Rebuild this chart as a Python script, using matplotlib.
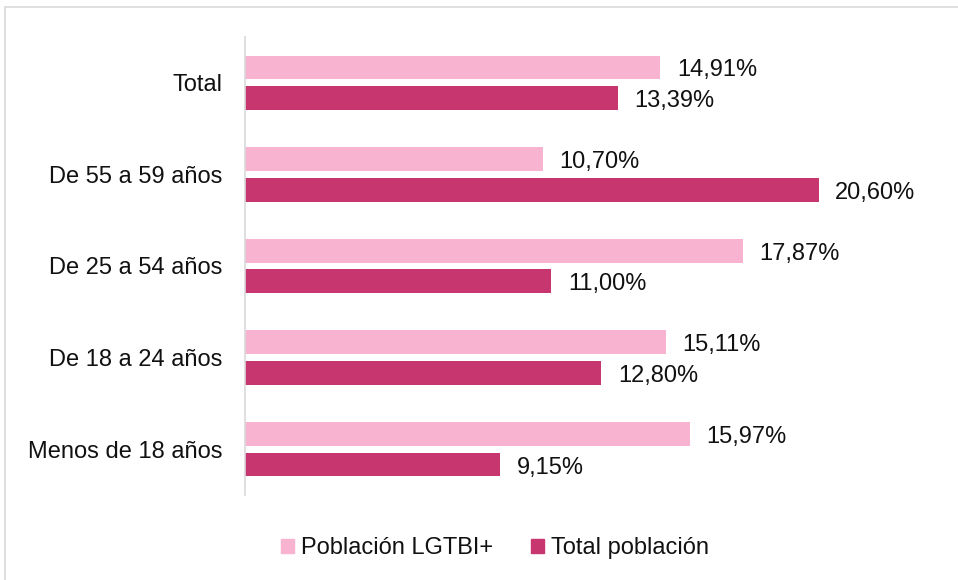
import matplotlib.pyplot as plt
import matplotlib.patches as mpatches
import matplotlib.transforms as mtransforms
import numpy as np

plt.rcParams['font.family'] = ['Liberation Sans', 'DejaVu Sans']

# %%
categories = ['Total', 'De 55 a 59 años', 'De 25 a 54 años', 'De 18 a 24 años', 'Menos de 18 años']
lgtbi = [14.91, 10.70, 17.87, 15.11, 15.97]
total = [13.39, 20.60, 11.00, 12.80, 9.15]
series_names = ['Población LGTBI+', 'Total población']
colors = ['#F8B3D0', '#C8366F']

# %%
fig = plt.figure(figsize=(9.58, 5.80), dpi=100)
ax = fig.add_axes([245 / 958, 1 - 495 / 580, (941 - 245) / 958, (495 - 37) / 580])

y = np.arange(len(categories))
h = 0.26
off = 0.168
ax.barh(y - off, lgtbi, height=h, color=colors[0], label=series_names[0])
ax.barh(y + off, total, height=h, color=colors[1], label=series_names[1])

def fmt(v):
    return f'{v:.2f}'.replace('.', ',') + '%'

# nudge value labels a few pixels down, as in the original
shift = mtransforms.offset_copy(ax.transData, fig=fig, x=0, y=-3, units='dots')
for yi, a, b in zip(y, lgtbi, total):
    ax.text(a + 0.6, yi - off, fmt(a), va='center', ha='left', fontsize=17, color='#111111', transform=shift)
    ax.text(b + 0.6, yi + off, fmt(b), va='center', ha='left', fontsize=17, color='#111111', transform=shift)

ax.set_xlim(0, 25)
ax.set_ylim(len(categories) - 0.5, -0.5)
ax.set_yticks(y)
ax.set_yticklabels(categories, fontsize=17, color='#111111')
ax.tick_params(axis='y', length=0, pad=16)
ax.set_xticks([])
for s in ['top', 'right', 'bottom']:
    ax.spines[s].set_visible(False)
ax.spines['left'].set_color('#d9d9d9')
ax.spines['left'].set_linewidth(1.2)

# legend
handles = [mpatches.Patch(color=c, label=n) for c, n in zip(colors, series_names)]
fig.legend(handles=handles, loc='center', bbox_to_anchor=(495 / 958, 1 - 548 / 580), ncol=2,
           frameon=False, fontsize=17, handlelength=0.55, handleheight=0.55,
           handletextpad=0.3, columnspacing=1.6, labelcolor='#111111')

# outer frame
fig.patches.append(mpatches.Rectangle((5 / 958, -0.05), 1.1, 1 - 7 / 580 + 0.05, transform=fig.transFigure,
                                      fill=False, edgecolor='#d9d9d9', linewidth=1.2))

fig.savefig('out.png', dpi=100)
